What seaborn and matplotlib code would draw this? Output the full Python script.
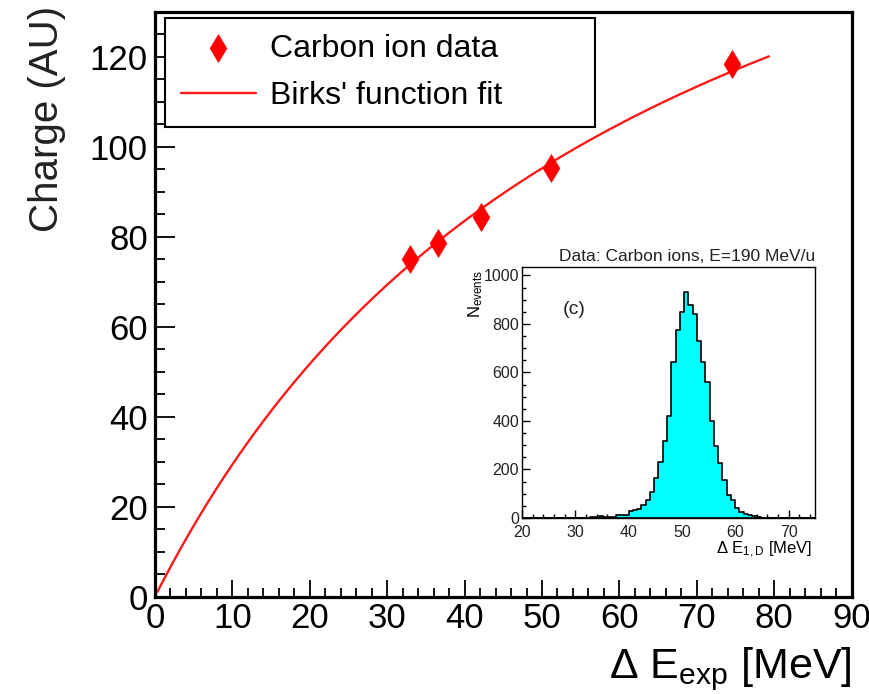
import numpy as np
import pandas as pd
import matplotlib
matplotlib.use("Agg")
import matplotlib.pyplot as plt
from matplotlib.ticker import MultipleLocator
import seaborn as sns

# Carbon ion measurements: deposited energy vs collected charge
carbon_energy = [33.0, 36.6, 42.1, 51.1, 74.5]      # MeV
carbon_charge = [75.1, 78.6, 84.5, 95.3, 118.4]     # AU

# Birks' law fit  Q = S*E / (1 + kB*E)
birks_scale = 3.40
birks_kb = 0.0157
fit_range = (0.3, 79.3)

# Inset: energy-loss spectrum for 190 MeV/u carbon ions (0.8 MeV bins)
hist_start = 20.0
hist_bin_width = 0.8
hist_counts = [
    2, 2, 1, 2, 2, 1, 2, 1, 0, 0, 0, 1, 0, 2, 2, 2, 3, 5, 9, 3,
    5, 6, 11, 12, 12, 30, 31, 38, 52, 75, 106, 163, 230, 316, 420,
    642, 775, 850, 932, 878, 840, 730, 642, 560, 400, 296, 227, 155,
    96, 73, 41, 25, 18, 14, 10, 4, 2, 1, 0, 0, 0, 0, 0, 0, 0, 0, 0, 0, 0,
]

sns.set_style("ticks")
plt.rcParams["font.family"] = ["Liberation Sans", "DejaVu Sans"]
plt.rcParams["mathtext.fontset"] = "custom"
plt.rcParams["mathtext.rm"] = "Liberation Sans"
plt.rcParams["mathtext.it"] = "Liberation Sans:italic"
plt.rcParams["text.color"] = "black"
plt.rcParams["axes.labelcolor"] = "black"
plt.rcParams["xtick.color"] = "black"
plt.rcParams["ytick.color"] = "black"

fig = plt.figure(figsize=(8.7, 6.94), dpi=100)
fig.patch.set_facecolor("white")

# ---------------- main panel ----------------
ax = fig.add_axes([0.178, 0.140, 0.801, 0.843])

fit_e = np.linspace(fit_range[0], fit_range[1], 300)
fit_q = birks_scale * fit_e / (1.0 + birks_kb * fit_e)

sns.lineplot(x=fit_e, y=fit_q, color="#ff1a1a", linewidth=1.7, estimator=None,
             sort=False, ax=ax, label="Birks' function fit", zorder=2)
sns.scatterplot(x=carbon_energy, y=carbon_charge, marker="d", s=200,
                color="red", edgecolor="red", linewidth=0.5, ax=ax,
                label="Carbon ion data", zorder=3)

ax.set_xlim(0, 90)
ax.set_ylim(0, 130)
ax.xaxis.set_major_locator(MultipleLocator(10))
ax.xaxis.set_minor_locator(MultipleLocator(2))
ax.yaxis.set_major_locator(MultipleLocator(20))
ax.yaxis.set_minor_locator(MultipleLocator(5))
ax.tick_params(which="both", direction="in", top=False, right=False,
               colors="black", labelcolor="black", width=1.3, labelsize=25)
ax.tick_params(axis="y", which="major", length=14.5, pad=5)
ax.tick_params(axis="y", which="minor", length=7.5)
ax.tick_params(axis="x", which="major", length=12.5, pad=4)
ax.tick_params(axis="x", which="minor", length=6.5)
for sp in ax.spines.values():
    sp.set_visible(True)
    sp.set_color("black")
    sp.set_linewidth(2.3)

ax.set_ylabel("Charge (AU)", fontsize=29, loc="top", color="#222222")
ax.yaxis.set_label_coords(-0.128, 1.01)
ax.set_xlabel("Δ E$_{\\mathrm{exp}}$ [MeV]", fontsize=31, loc="right",
              color="black")
ax.xaxis.set_label_coords(1.0, -0.083)

handles, labels = ax.get_legend_handles_labels()
order = [labels.index("Carbon ion data"), labels.index("Birks' function fit")]
leg = ax.legend([handles[i] for i in order], [labels[i] for i in order],
                loc="upper left", bbox_to_anchor=(0.014, 0.80, 0.617, 0.19),
                mode="expand", fontsize=23, frameon=True, fancybox=False,
                edgecolor="black", framealpha=1, borderaxespad=0,
                handlelength=2.35, handletextpad=0.45, labelspacing=0.55,
                borderpad=0.5, scatterpoints=1)
leg.get_frame().set_linewidth(1.5)
for t in leg.get_texts():
    t.set_color("black")

# ---------------- inset histogram ----------------
ax_in = fig.add_axes([0.600, 0.2536, 0.337, 0.3617])
n_bins = len(hist_counts)
bin_lo = hist_start + hist_bin_width * np.arange(n_bins)
spectrum = pd.DataFrame({"energy": bin_lo + 0.5 * hist_bin_width,
                         "count": np.asarray(hist_counts, dtype=float)})
sns.histplot(data=spectrum, x="energy", weights="count",
             binwidth=hist_bin_width,
             binrange=(hist_start, hist_start + n_bins * hist_bin_width),
             element="step", fill=True, color="#00ffff", alpha=1,
             edgecolor="black", linewidth=1.2, ax=ax_in)

ax_in.set_xlim(20, 75)
ax_in.set_ylim(0, 1035)
ax_in.xaxis.set_major_locator(MultipleLocator(10))
ax_in.xaxis.set_minor_locator(MultipleLocator(2))
ax_in.yaxis.set_major_locator(MultipleLocator(200))
ax_in.yaxis.set_minor_locator(MultipleLocator(50))
ax_in.tick_params(which="both", direction="in", top=False, right=False,
                  colors="black", labelcolor="#222222", width=1.0,
                  labelsize=11.5)
ax_in.tick_params(axis="y", pad=2)
ax_in.tick_params(axis="x", pad=5)
ax_in.tick_params(which="major", length=6)
ax_in.tick_params(which="minor", length=3)
for lbl in ax_in.get_yticklabels():
    lbl.set_verticalalignment("center_baseline")
for sp in ax_in.spines.values():
    sp.set_visible(True)
    sp.set_color("black")
    sp.set_linewidth(1.0)

ax_in.set_ylabel("N$_{\\mathrm{events}}$", fontsize=12, loc="top")
ax_in.yaxis.set_label_coords(-0.125, 0.99)
ax_in.set_xlabel("Δ E$_{\\mathrm{1,D}}$ [MeV]", fontsize=12, loc="right")
ax_in.xaxis.set_label_coords(0.99, -0.085)
ax_in.set_title("Data: Carbon ions, E=190 MeV/u", fontsize=12.5,
                loc="right", pad=4, color="#222222")
ax_in.text(29.8, 858, "(c)", fontsize=14, ha="center", va="center",
           color="#222222")

fig.savefig("out.png", dpi=100, facecolor="white")
